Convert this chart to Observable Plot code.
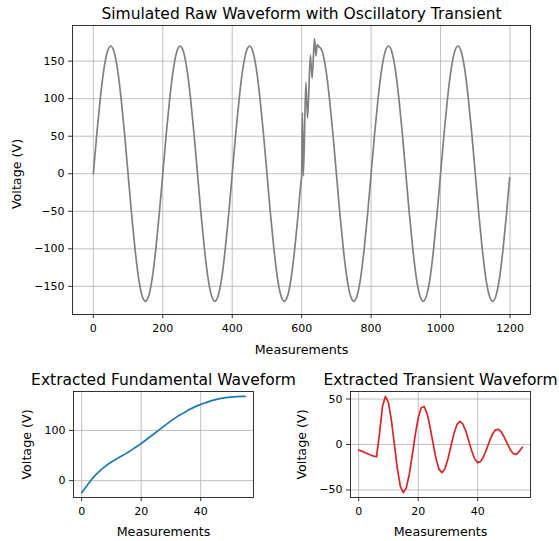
<!DOCTYPE html>
<html><head><meta charset="utf-8">
<script src="https://cdn.jsdelivr.net/npm/d3@7"></script>
<script src="https://cdn.jsdelivr.net/npm/@observablehq/plot@0.6"></script>
<style>
body{margin:0;background:#fff;}
#wrap{position:relative;width:559px;height:541px;overflow:hidden;background:#fff;}
#wrap svg{position:absolute;}
</style>
</head><body><div id="wrap"></div>
<script>
// ---- Top: simulated raw waveform (sample index, voltage) ----
const rawN = [0,10,20,30,40,50,60,70,80,90,100,110,120,130,140,150,160,170,180,190,
  200,210,220,230,240,250,260,270,280,290,300,310,320,330,340,350,360,370,380,390,
  400,410,420,430,440,450,460,470,480,490,500,510,520,530,540,550,560,570,580,590,
  598,600,602,605,612,617,625,630,637,641,645,650,655,
  660,670,680,690,700,710,720,730,740,750,760,770,780,790,
  800,810,820,830,840,850,860,870,880,890,900,910,920,930,940,950,960,970,980,990,
  1000,1010,1020,1030,1040,1050,1060,1070,1080,1090,1100,1110,1120,1130,1140,1150,1160,1170,1180,1190,
  1199];
const rawV = [0,53,100,138,162,170,162,138,100,53,0,-53,-100,-138,-162,-170,-162,-138,-100,-53,
  0,53,100,138,162,170,162,138,100,53,0,-53,-100,-138,-162,-170,-162,-138,-100,-53,
  0,53,100,138,162,170,162,138,100,53,0,-53,-100,-138,-162,-170,-162,-138,-100,-53,
  -11,-3,81,-3,122,74,158,127,180,157,172,169,167,
  162,138,100,53,0,-53,-100,-138,-162,-170,-162,-138,-100,-53,
  0,53,100,138,162,170,162,138,100,53,0,-53,-100,-138,-162,-170,-162,-138,-100,-53,
  0,53,100,138,162,170,162,138,100,53,0,-53,-100,-138,-162,-170,-162,-138,-100,-53,
  -5];

// ---- Bottom left: extracted fundamental ----
const fundN = [0,2,4,6,8,10,12,14,16,18,20,22,24,26,28,30,32,34,36,38,40,42,44,46,48,50,52,54,55];
const fundV = [-24,-8,7,19,29,37,44,51,58,66,74,83,92,101,110,119,127,134,141,147,152,156,160,163,165,166.5,167.5,168,168];

// ---- Bottom right: extracted transient (one value per sample 0..55) ----
const transV = [-6,-7.3,-8.8,-10.2,-11.6,-12.8,-13.5,12,42,53,46,26.5,0,-26.5,-46,-53,-47.7,-33,-12.1,10.3,
  29.3,40.5,41.8,33.9,19.2,1.3,-15.7,-27.3,-31,-26.6,-16,-2,11.8,21.8,25.5,22.6,14.8,3.9,-7.2,-15.9,
  -19.9,-18.6,-13.2,-5.1,3.9,11.6,16.2,16.7,13.5,7.6,0.6,-6,-10.1,-10.8,-7.5,-3];

// ---- Tick labels / text ----
const topXTicks = [0,200,400,600,800,1000,1200];
const topYTicks = [-150,-100,-50,0,50,100,150];
const botXTicks = [0,20,40];
const fundYTicks = [0,100];
const transYTicks = [-50,0,50];
const titles = ["Simulated Raw Waveform with Oscillatory Transient","Extracted Fundamental Waveform","Extracted Transient Waveform"];
const xLabel = "Measurements";
const yLabel = "Voltage (V)";

const rawData = rawN.map((n,i)=>({n, v: rawV[i]}));
const fundData = fundN.map((n,i)=>({n, v: fundV[i]}));
const transData = transV.map((v,i)=>({n: i, v}));

const fmt = d => d < 0 ? "\u2212" + Math.abs(d) : String(d);
const gridStyle = {stroke: "#b0b0b0", strokeOpacity: 1, strokeWidth: 0.8};
const baseStyle = {fontFamily: "DejaVu Sans", fontSize: "11px", color: "black", background: "transparent", overflow: "visible"};

function panel({w, h, ml, mr, mt, mb, xd, yd, xt, yt, data, color, curve, title, ylabDx, ylabDy, xlabDy}) {
  return Plot.plot({
    width: w, height: h, marginLeft: ml, marginRight: mr, marginTop: mt, marginBottom: mb,
    style: baseStyle,
    x: {domain: xd},
    y: {domain: yd},
    marks: [
      Plot.gridX(xt, gridStyle),
      Plot.gridY(yt, gridStyle),
      Plot.line(data, {x: "n", y: "v", stroke: color, strokeWidth: 1.7, curve}),
      Plot.frame({stroke: "black", strokeWidth: 0.8}),
      Plot.axisX(xt, {tickSize: 4, tickPadding: 6, tickFormat: fmt, label: null, strokeWidth: 0.8}),
      Plot.axisY(yt, {tickSize: 4, tickPadding: 4, tickFormat: fmt, label: null, strokeWidth: 0.8}),
      Plot.text([title], {text: d => d, frameAnchor: "top", textAnchor: "middle", dy: -7, lineAnchor: "bottom", fontSize: 15.5}),
      Plot.text([xLabel], {text: d => d, frameAnchor: "bottom", textAnchor: "middle", dy: xlabDy, lineAnchor: "bottom", fontSize: 12.7}),
      Plot.text([yLabel], {text: d => d, frameAnchor: "left", textAnchor: "middle", dx: ylabDx, dy: ylabDy, rotate: -90, lineAnchor: "middle", fontSize: 12.7})
    ]
  });
}

const wrap = document.getElementById("wrap");
function place(svg, left, top) { svg.style.left = left + "px"; svg.style.top = top + "px"; wrap.appendChild(svg); }

place(panel({w: 559, h: 360, ml: 72, mr: 29, mt: 25, mb: 46, xd: [-60, 1259], yd: [-187.5, 197.5],
  xt: topXTicks, yt: topYTicks, data: rawData, color: "gray", curve: "monotone-x", title: titles[0],
  ylabDx: -55.5, ylabDy: 4, xlabDy: 39}), 0, 0);
place(panel({w: 280, h: 181, ml: 73, mr: 27, mt: 31, mb: 44, xd: [-2.75, 57.75], yd: [-33.6, 177.6],
  xt: botXTicks, yt: fundYTicks, data: fundData, color: "#1f77b4", curve: "monotone-x", title: titles[1],
  ylabDx: -46.3, ylabDy: 0, xlabDy: 38}), 0, 360);
place(panel({w: 279, h: 181, ml: 70, mr: 29, mt: 31, mb: 44, xd: [-2.75, 57.75], yd: [-58.3, 58.3],
  xt: botXTicks, yt: transYTicks, data: transData, color: "#d62728", curve: "linear", title: titles[2],
  ylabDx: -48.5, ylabDy: 0, xlabDy: 38}), 280, 360);
</script></body></html>
